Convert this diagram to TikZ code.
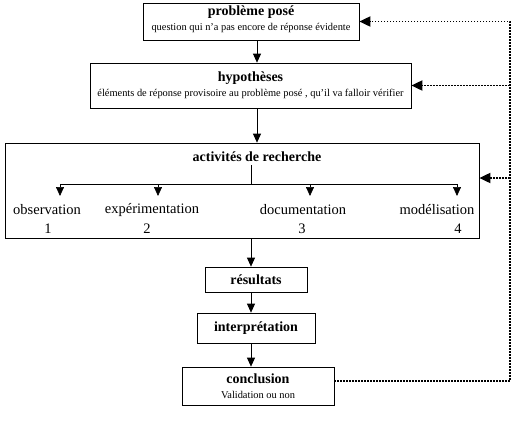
\documentclass[tikz,border=0pt]{standalone}
\usepackage{fontspec}
\setmainfont{Liberation Serif}
\usetikzlibrary{arrows.meta,positioning,calc}
\newcommand{\txtgrand}{\fontsize{14}{15}\selectfont\bfseries}
\newcommand{\txtitem}{\fontsize{14.5}{16}\selectfont}
\newcommand{\txtpetit}{\fontsize{10.4}{15}\selectfont}
\tikzset{boite/.style={draw, line width=0.7pt, inner sep=0pt, align=center, font=\txtpetit},
         fleche/.style={-{Triangle[length=9pt,width=8pt]}, line width=0.7pt},
         retour/.style={-{Triangle[length=11pt,width=10pt]}, line width=1.8pt, dash pattern=on 1.6pt off 1.4pt}}

\begin{document}
\begin{tikzpicture}[x=1pt,y=-1pt]
\useasboundingbox (0,0) rectangle (515,421);

% boites de la demarche
\node[boite, minimum width=216, minimum height=37] (pb) at (251,21.5)
   {{\txtgrand problème posé}\\question qui n'a pas encore de réponse évidente\rule[-6pt]{0pt}{1pt}};
\node[boite, minimum width=321, minimum height=45] (hyp) at (250.5,85.5)
   {{\txtgrand hypothèses}\\éléments de réponse provisoire au problème posé , qu'il va falloir vérifier};
\node[boite, minimum width=474, minimum height=95] (act) at (242,190.5) {};
\node[font=\txtgrand] (act-t) at (257,157) {activités de recherche};
\node[boite, minimum width=102, minimum height=25, font=\txtgrand] (res) at (256,279.5) {résultats};
\node[boite, minimum width=118, minimum height=30, font=\txtgrand] (interp) at (256,328) {interprétation};
\node[boite, minimum width=152, minimum height=38] (conc) at (258,386)
   {{\txtgrand conclusion}\\Validation ou non};

% les quatre activites
\coordinate (emb) at (251,184);
\foreach \nom/\x/\xt/\xn/\lab/\num in {obs/60/47/48/observation/1, exp/158/152/147/expérimentation/2,
                                       doc/310/303/302/documentation/3, mod/457/437/458/modélisation/4}{
   \coordinate (b-\nom) at (\x,184);
   \node[font=\txtitem] (\nom) at (\xt,210) {\lab};
   \node[font=\txtitem] (\nom-n) at (\xn,229) {\num};
   \draw[fleche] (b-\nom) -- ++(0,12);
}
\draw[line width=0.7pt] (act-t.south -| emb) -- (emb);
\draw[line width=0.7pt] (b-obs) -- (b-mod);

% enchainement
\draw[fleche] (pb.south -| act-t) -- (hyp.north -| act-t);
\draw[fleche] (hyp.south -| act-t) -- (act.north -| act-t);
\draw[fleche] (act.south -| emb) -- (res.north -| emb);
\draw[fleche] (res.south -| emb) -- (interp.north -| emb);
\draw[fleche] (interp.south -| emb) -- (conc.north -| emb);

% retours
\coordinate (c-bas) at (510,381);
\coordinate (c-act) at (510,178);
\draw[retour] (conc.east |- c-bas) -- (c-bas) -- (c-bas |- pb.east) -- (pb.east);
\draw[retour] (c-bas |- hyp.east) -- (hyp.east);
\draw[retour] (c-act) -- (act.east |- c-act);
\end{tikzpicture}
\end{document}
